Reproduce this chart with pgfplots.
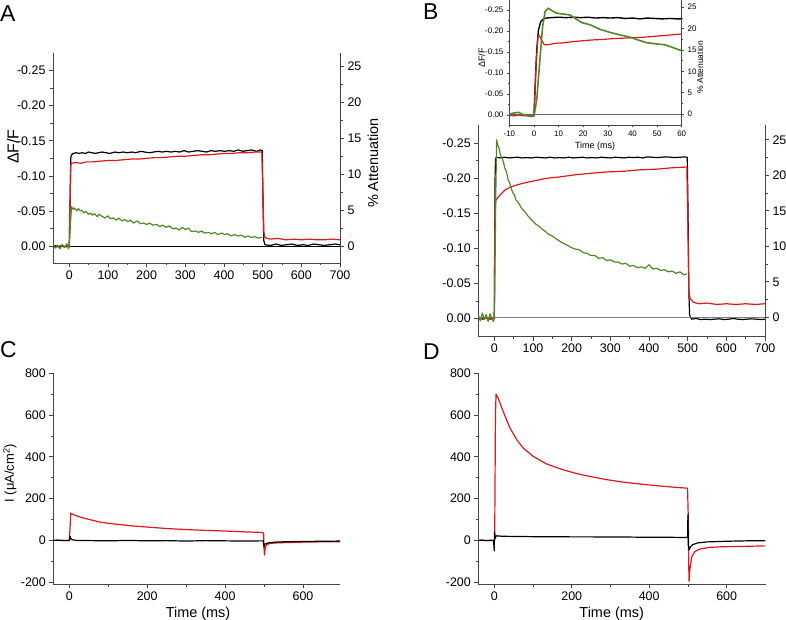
\documentclass[border=0pt]{standalone}
\usepackage{fontspec}
\setmainfont{Liberation Sans}
\usepackage{pgfplots}
\pgfplotsset{compat=1.18}
\definecolor{trred}{RGB}{222,24,24}
\definecolor{trgreen}{RGB}{80,138,40}
\definecolor{axgray}{RGB}{70,70,70}
\pgfplotsset{
  base/.style={
    scale only axis, anchor=south west, tick align=outside,
    axis line style={-, line width=0.9bp, axgray},
    every tick/.style={line width=0.8bp, axgray},
    major tick length=4bp, minor tick length=2.5bp,
    tick label style={font=\fontsize{12.5}{14}\selectfont},
    /pgf/number format/assume math mode=true,
  },
  small/.style={
    axis line style={-, line width=0.7bp, axgray},
    every tick/.style={line width=0.6bp, axgray},
    major tick length=2.5bp, minor tick length=1.5bp,
    tick label style={font=\fontsize{8}{9}\selectfont},
  },
  dff/.style={
    hide x axis, axis y line*=left, y dir=reverse,
    ytick={-0.25,-0.2,-0.15,-0.1,-0.05,0}, minor y tick num=1,
    yticklabel style={/pgf/number format/fixed, /pgf/number format/fixed zerofill, /pgf/number format/precision=2},
  },
  att/.style={
    axis x line*=bottom, axis y line*=right,
    ytick={0,5,10,15,20,25}, minor y tick num=1,
  },
  trace/.style={line width=1.2bp, line join=round},
}
\begin{document}
\begin{tikzpicture}
\path[use as bounding box] (0bp,0bp) rectangle (786bp,620bp);

% ---------------- A ----------------
\begin{axis}[base, dff, at={(53bp,357bp)}, width=287bp, height=210bp,
  xmin=-42, xmax=700, ymin=-0.275, ymax=0.024]
\addplot[trace, black] coordinates {(-42,0.001) (-35,-0.001) (-28,0.001) (-20,0.000) (-12,0.001) (-5,-0.001) (0,0.001) (2,-0.060) (4,-0.126) (6,-0.130) (10,-0.132) (18,-0.133) (25,-0.132) (33,-0.133) (42,-0.132) (50,-0.134) (58,-0.133) (67,-0.132) (75,-0.133) (85,-0.134) (95,-0.133) (105,-0.132) (118,-0.134) (128,-0.133) (140,-0.134) (150,-0.133) (162,-0.134) (172,-0.133) (185,-0.135) (195,-0.134) (207,-0.133) (218,-0.134) (230,-0.135) (240,-0.134) (252,-0.135) (263,-0.134) (275,-0.135) (285,-0.134) (297,-0.136) (308,-0.134) (320,-0.135) (332,-0.136) (343,-0.135) (355,-0.134) (366,-0.136) (378,-0.135) (390,-0.136) (402,-0.135) (414,-0.136) (425,-0.135) (437,-0.137) (449,-0.135) (460,-0.136) (472,-0.137) (484,-0.135) (495,-0.137) (499,-0.136) (501,-0.060) (503,-0.008) (506,-0.002) (520,-0.001) (535,-0.003) (548,-0.001) (562,-0.002) (575,-0.003) (590,-0.001) (605,-0.002) (618,-0.001) (632,-0.003) (646,-0.002) (660,-0.001) (673,-0.002) (687,-0.003) (700,-0.002)};
\addplot[trace, trred] coordinates {(-42,0.000) (-30,0.001) (-20,-0.001) (-10,0.001) (0,0.000) (2,-0.060) (4,-0.116) (6,-0.118) (15,-0.119) (30,-0.118) (45,-0.120) (60,-0.120) (80,-0.121) (100,-0.122) (120,-0.122) (140,-0.123) (160,-0.124) (180,-0.124) (200,-0.125) (220,-0.126) (240,-0.126) (260,-0.127) (280,-0.128) (300,-0.128) (320,-0.129) (340,-0.130) (360,-0.130) (380,-0.131) (400,-0.132) (420,-0.132) (440,-0.133) (460,-0.133) (480,-0.134) (498,-0.134) (501,-0.070) (503,-0.020) (506,-0.012) (520,-0.010) (540,-0.011) (560,-0.009) (580,-0.010) (600,-0.009) (620,-0.010) (640,-0.009) (660,-0.009) (680,-0.010) (700,-0.009)};
\end{axis}
\begin{axis}[base, att, at={(53bp,357bp)}, width=287bp, height=210bp,
  xmin=-42, xmax=700, ymin=-2.37, ymax=26.9,
  xtick={0,100,...,700}, minor x tick num=1]
\addplot[line width=0.6bp, black] coordinates {(-42,0) (700,0)};
\addplot[trace, trgreen] coordinates {(-42,0.2) (-36,-0.3) (-30,0.1) (-24,-0.4) (-18,0.2) (-12,-0.2) (-6,0.3) (-2,-0.4) (0,0) (3,3) (6,5.5) (10,5.1) (14,5.3) (19,4.9) (24,5.2) (28,4.9) (33,5.0) (38,4.6) (44,4.8) (50,4.4) (54,4.6) (60,4.3) (66,4.5) (72,4.1) (78,4.4) (86,4.1) (92,3.9) (100,4.2) (106,3.8) (114,3.9) (122,3.6) (128,3.9) (136,3.5) (144,3.7) (152,3.4) (158,3.6) (166,3.2) (176,3.5) (184,3.1) (192,3.2) (200,3.0) (208,3.2) (216,2.9) (226,3.0) (234,2.7) (242,2.9) (250,2.6) (258,2.8) (268,2.4) (276,2.5) (284,2.2) (292,2.6) (300,2.3) (308,2.5) (316,2.0) (326,2.1) (334,1.9) (342,2.1) (350,1.8) (360,1.9) (368,1.7) (376,1.9) (384,1.6) (394,1.8) (402,1.6) (410,1.7) (418,1.4) (428,1.6) (436,1.4) (446,1.5) (454,1.2) (462,1.4) (470,1.2) (480,1.3) (488,1.1) (498,1.2)};
\end{axis}

% ---------------- B main ----------------
\begin{axis}[base, dff, at={(478.3bp,283.3bp)}, width=286.7bp, height=211.7bp,
  xmin=-41.4, xmax=700, ymin=-0.276, ymax=0.026]
\addplot[trace, black] coordinates {(-41,0.001) (-35,-0.001) (-28,0.001) (-20,-0.001) (-12,0.001) (-5,-0.001) (0,0.000) (1,-0.100) (2,-0.200) (3,-0.227) (5,-0.230) (15,-0.229) (26,-0.230) (38,-0.229) (49,-0.2295) (60,-0.230) (72,-0.229) (84,-0.2295) (96,-0.229) (108,-0.230) (120,-0.2295) (132,-0.229) (144,-0.230) (156,-0.229) (168,-0.2295) (180,-0.229) (192,-0.230) (204,-0.229) (216,-0.2295) (228,-0.230) (240,-0.229) (252,-0.2295) (264,-0.229) (276,-0.230) (288,-0.2295) (300,-0.229) (312,-0.230) (324,-0.2295) (336,-0.229) (348,-0.230) (360,-0.2295) (372,-0.230) (384,-0.229) (396,-0.2305) (408,-0.230) (420,-0.2295) (432,-0.230) (444,-0.2305) (456,-0.230) (468,-0.2295) (480,-0.230) (492,-0.2305) (499,-0.230) (501,-0.150) (503,-0.040) (505,-0.005) (510,0.001) (522,0.000) (534,0.0015) (546,0.001) (558,0.0015) (570,0.001) (582,0.0005) (594,0.0015) (606,0.001) (618,0.000) (630,0.001) (642,0.0015) (654,0.001) (666,0.0005) (678,0.001) (690,0.0015) (700,0.001)};
\addplot[trace, trred] coordinates {(-41,0.000) (-30,0.001) (-20,-0.001) (-10,0.001) (0,0.000) (1,-0.120) (3,-0.168) (5,-0.169) (10,-0.173) (18,-0.178) (27,-0.183) (40,-0.187) (55,-0.190) (75,-0.193) (100,-0.196) (135,-0.200) (170,-0.202) (210,-0.205) (247,-0.207) (290,-0.209) (334,-0.210) (375,-0.212) (420,-0.213) (460,-0.215) (498,-0.216) (501,-0.120) (503,-0.040) (506,-0.029) (515,-0.023) (530,-0.021) (550,-0.022) (575,-0.020) (600,-0.021) (625,-0.020) (650,-0.021) (675,-0.020) (700,-0.021)};
\end{axis}
\begin{axis}[base, att, at={(478.3bp,283.3bp)}, width=286.7bp, height=211.7bp,
  xmin=-41.4, xmax=700, ymin=-2.73, ymax=27.08,
  xtick={0,100,...,700}, minor x tick num=1]
\addplot[line width=0.7bp, black!50] coordinates {(-41.4,0) (700,0)};
\addplot[trace, trgreen] coordinates {(-41,0.3) (-36,-0.5) (-31,0.6) (-26,-0.3) (-21,0.4) (-16,-0.6) (-11,0.5) (-6,-0.2) (-2,-0.6) (0,0) (2,8) (4,18) (6,25.0) (9,24.2) (12,23.9) (15,23.0) (18,22.6) (21,22.3) (24,21.8) (27,21.0) (30,20.7) (33,20.1) (36,19.3) (40,18.9) (44,18.1) (48,17.5) (52,17.3) (56,16.5) (60,16.3) (65,15.9) (70,15.4) (75,15.1) (80,14.8) (85,14.4) (90,14.1) (95,13.8) (100,13.5) (108,13.1) (116,12.8) (124,12.4) (132,12.1) (140,11.7) (148,11.5) (156,11.2) (164,10.9) (172,10.6) (180,10.4) (190,10.1) (200,9.8) (210,9.6) (220,9.5) (230,9.1) (240,9.0) (250,8.7) (260,8.7) (270,8.3) (280,8.4) (290,8.0) (300,8.1) (310,7.8) (320,7.8) (330,7.5) (340,7.6) (350,7.2) (360,7.3) (370,7.0) (380,7.1) (390,6.9) (400,7.4) (410,6.8) (420,6.9) (430,6.6) (440,6.7) (450,6.4) (460,6.5) (470,6.2) (480,6.4) (490,6.0) (498,6.1)};
\end{axis}

% ---------------- B inset ----------------
\begin{axis}[base, small, dff, at={(509.4bp,495bp)}, width=172.3bp, height=125bp,
  xmin=-10, xmax=60, ymin=-0.274, ymax=0.0238]
\addplot[line width=1.4bp, black] coordinates {(-10,0.000) (-9,-0.001) (-8,0.001) (-7,0.000) (-6,-0.001) (-5,0.001) (-4,0.000) (-3,0.001) (-2,-0.001) (-1,0.001) (0,0.000) (0.5,-0.075) (1.1,-0.155) (1.8,-0.202) (2.7,-0.222) (3.8,-0.229) (5,-0.231) (7,-0.232) (10,-0.233) (13,-0.232) (16,-0.233) (19,-0.232) (22,-0.233) (25,-0.231) (28,-0.232) (31,-0.231) (34,-0.232) (37,-0.230) (40,-0.231) (43,-0.229) (46,-0.231) (49,-0.230) (52,-0.229) (55,-0.230) (58,-0.229) (60,-0.229)};
\addplot[line width=1.2bp, trred] coordinates {(-10,0.001) (-8,0.002) (-6,0.000) (-4,0.002) (-2,0.001) (0,0.001) (0.8,-0.115) (1.6,-0.188) (2.0,-0.190) (2.5,-0.186) (3.1,-0.178) (4.1,-0.168) (5.1,-0.167) (7,-0.169) (9,-0.171) (12,-0.172) (16,-0.175) (20,-0.177) (24,-0.179) (28,-0.180) (32,-0.182) (36,-0.183) (40,-0.184) (44,-0.185) (48,-0.187) (52,-0.189) (56,-0.191) (60,-0.193)};
\end{axis}
\begin{axis}[base, small, att, at={(509.4bp,495bp)}, width=172.3bp, height=125bp,
  xmin=-10, xmax=60, ymin=-2.58, ymax=26.7,
  xtick={-10,0,...,60}, minor x tick num=1]
\addplot[line width=0.6bp, black!60] coordinates {(-10,0) (60,0)};
\addplot[line width=1.6bp, trgreen, line join=round] coordinates {(-10,0.0) (-8.4,0.2) (-6.3,0.4) (-5,0.0) (-3,-0.4) (-1,-0.6) (0,-0.5) (1.1,3.3) (2.4,12.7) (3.5,20.5) (4.5,24.0) (5.8,24.8) (7.2,24.2) (9.2,23.6) (11.9,23.4) (14.6,23.2) (16.7,22.4) (19.4,21.4) (22.8,20.9) (26.9,19.8) (31,19.1) (35,18.5) (39,18.0) (42.4,17.3) (45.8,16.7) (50,16.4) (53.3,16.2) (56.7,15.5) (60,14.8)};
\end{axis}

% ---------------- C ----------------
\begin{axis}[base, at={(53.3bp,35.7bp)}, width=286.7bp, height=211bp,
  axis x line*=bottom, axis y line*=left,
  xmin=-41, xmax=695, ymin=-210, ymax=800,
  xtick={0,200,400,600}, minor x tick num=1,
  ytick={-200,0,200,400,600,800}, minor y tick num=1]
\addplot[trace, trred] coordinates {(-40,0) (-30,1) (-20,-1) (-10,0) (0,0) (2,60) (4,131) (10,124) (20,117) (35,108) (50,101) (78,88) (100,82) (130,76) (165,69) (200,64) (250,57) (300,52) (350,48) (400,45) (450,41) (497,38) (499,30) (500,-40) (501,-70) (503,-40) (506,-22) (515,-14) (540,-11) (570,-10) (600,-8) (640,-7) (695,-6)};
\addplot[trace, black] coordinates {(-40,0) (-25,1) (-10,-1) (0,0) (1,5) (2,20) (4,8) (8,3) (20,0) (60,-1) (100,-2) (150,0) (200,-2) (250,-1) (300,-3) (350,-1) (400,-2) (450,-3) (498,-2) (500,-30) (502,-18) (510,-12) (530,-8) (560,-6) (600,-5) (650,-4) (695,-3)};
\end{axis}

% ---------------- D ----------------
\begin{axis}[base, at={(478.3bp,35.7bp)}, width=287.4bp, height=211bp,
  axis x line*=bottom, axis y line*=left,
  xmin=-41.3, xmax=700.8, ymin=-210, ymax=800,
  xtick={0,200,400,600}, minor x tick num=1,
  ytick={-200,0,200,400,600,800}, minor y tick num=1]
\addplot[trace, trred] coordinates {(-41,0) (-30,1) (-20,-1) (-10,1) (-3,0) (1,2) (3,600) (4.5,700) (10,681) (23,617) (40,540) (58,482) (75,442) (100,403) (135,366) (178,338) (213,320) (247,306) (290,291) (333,279) (376,270) (419,262) (462,255) (499,250) (501,100) (502,-120) (503,-196) (505,-140) (510,-77) (518,-53) (531,-41) (557,-33) (591,-30) (635,-29) (700,-26)};
\addplot[trace, black] coordinates {(-41,0) (-30,1) (-20,-1) (-10,0) (-2,0) (0,-50) (0.5,40) (2,10) (5,22) (20,20) (50,19) (100,18) (150,18) (200,17) (250,17) (300,16) (350,16) (400,15) (450,15) (499,14) (500,123) (501,-20) (503,-45) (506,-32) (512,-20) (525,-12) (550,-7) (600,-4) (650,-2) (700,-1)};
\end{axis}

% ---------------- labels ----------------
\node[rotate=90, font=\fontsize{16}{18}\selectfont] at (13bp,473.3bp) {ΔF/F};
\node[rotate=90, font=\fontsize{14.5}{16}\selectfont] at (373bp,457bp) {\% Attenuation};
\node[rotate=90, font=\fontsize{9}{10}\selectfont] at (481.7bp,562bp) {ΔF/F};
\node[rotate=90, font=\fontsize{8.5}{10}\selectfont] at (700bp,553bp) {\% Attenuation};
\node[font=\fontsize{9}{10}\selectfont] at (595bp,474.3bp) {Time (ms)};
\node[rotate=90, font=\fontsize{13}{15}\selectfont] at (10bp,146.7bp) {I (μA/cm\textsuperscript{2})};
\node[anchor=base, font=\fontsize{14.5}{16}\selectfont] at (198bp,2.5bp) {Time (ms)};
\node[anchor=base, font=\fontsize{14.5}{16}\selectfont] at (611.7bp,2.5bp) {Time (ms)};
\node[anchor=base west, inner sep=0pt, font=\fontsize{23}{25}\selectfont] at (0bp,598.3bp) {A};
\node[anchor=base west, inner sep=0pt, font=\fontsize{23}{25}\selectfont] at (423bp,600bp) {B};
\node[anchor=base west, inner sep=0pt, font=\fontsize{23}{25}\selectfont] at (0bp,262bp) {C};
\node[anchor=base west, inner sep=0pt, font=\fontsize{23}{25}\selectfont] at (423bp,260bp) {D};
\end{tikzpicture}
\end{document}
